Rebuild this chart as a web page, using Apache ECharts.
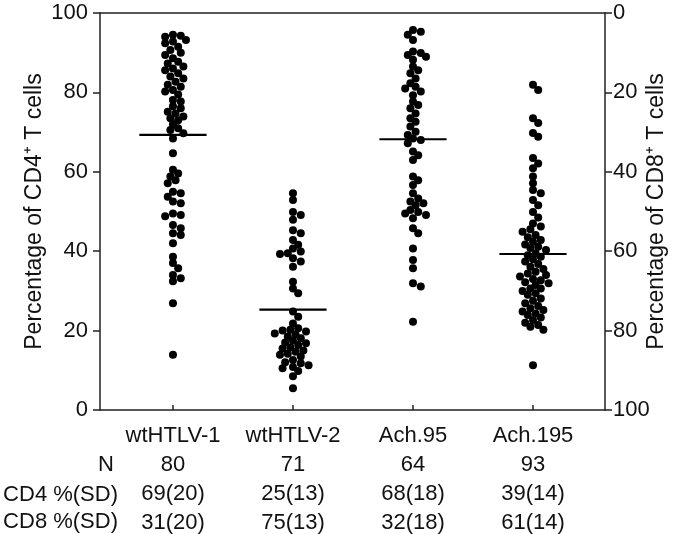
<!DOCTYPE html>
<html>
<head>
<meta charset="utf-8">
<script src="https://cdn.jsdelivr.net/npm/echarts@6/dist/echarts.min.js"></script>
<style>html,body{margin:0;padding:0;background:#fff}#c{width:680px;height:534px}</style>
</head>
<body>
<div id="c"></div>
<script>
const categories = ['wtHTLV-1', 'wtHTLV-2', 'Ach.95', 'Ach.195'];
const nCounts = [80, 71, 64, 93];
const cd4Stats = ['69(20)', '25(13)', '68(18)', '39(14)'];
const cd8Stats = ['31(20)', '75(13)', '32(18)', '61(14)'];
const cd4Means = [69.3, 25.3, 68.2, 39.3];
const leftTicks = [0, 20, 40, 60, 80, 100];

const wt1 = [94.5, 94.3, 94.0, 93.2, 92.8, 92.4, 91.5, 90.7, 90.0, 89.4, 88.6, 87.7, 87.3, 86.5, 86.0,
  85.6, 84.8, 84.0, 83.5, 82.7, 81.9, 81.4, 80.6, 80.2, 79.5, 78.1, 77.7, 76.5, 76.0, 75.1, 74.7,
  73.9, 73.5, 73.0, 72.0, 71.0, 70.5, 69.7, 68.4, 64.7, 60.5, 59.6, 58.8, 57.9, 57.1, 55.0, 54.6,
  53.7, 52.5, 52.1, 49.5, 49.1, 48.8, 46.6, 45.8, 44.5, 44.1, 42.0, 38.6, 37.0, 35.7, 34.0, 33.2,
  32.4, 26.9, 13.9];
const wt2 = [54.6, 52.9, 49.9, 49.1, 47.9, 45.3, 44.5, 42.8, 41.6, 40.7, 39.9, 39.5, 39.3, 38.2,
  37.4, 36.1, 32.3, 30.6, 29.4, 24.8, 23.5, 21.8, 20.6, 20.2, 20.0, 19.8, 19.3, 19.0, 18.5, 18.1,
  17.5, 17.0, 16.8, 16.4, 15.8, 15.5, 15.0, 14.7, 14.2, 13.9, 13.5, 12.6, 12.0, 11.8, 11.3, 10.8,
  10.5, 9.8, 8.5, 5.5];
const a95 = [95.7, 95.3, 94.5, 93.2, 90.3, 89.9, 89.4, 89.0, 88.2, 86.5, 85.6, 84.8, 83.5, 82.3,
  81.4, 81.0, 80.2, 79.3, 77.7, 76.8, 76.0, 74.7, 73.5, 72.6, 71.4, 70.1, 69.3, 68.4, 68.0, 67.2,
  65.1, 64.2, 63.0, 58.8, 57.9, 56.7, 54.6, 53.3, 52.5, 52.1, 51.6, 50.4, 49.9, 49.5, 49.1, 48.3,
  45.8, 44.5, 40.7, 37.8, 35.7, 31.9, 31.1, 22.2];
const a195 = [81.9, 80.6, 73.5, 72.3, 69.8, 68.8, 63.5, 62.1, 60.9, 58.8, 57.1, 55.4, 54.6, 52.9,
  51.6, 49.9, 48.5, 47.0, 46.2, 45.5, 44.9, 44.1, 43.5, 42.8, 42.4, 41.7, 41.1, 40.8, 40.3, 39.5,
  39.0, 38.6, 38.0, 37.4, 36.8, 36.1, 35.5, 34.8, 34.4, 34.0, 33.6, 33.0, 32.7, 32.2, 31.9, 31.5,
  30.6, 30.6, 30.0, 29.4, 29.0, 28.1, 27.5, 26.9, 26.2, 25.6, 25.2, 24.8, 24.3, 23.9, 23.3, 22.7,
  22.0, 21.4, 21.0, 20.2, 11.3];
const groups = [wt1, wt2, a95, a195];

// deterministic beeswarm placement (in pixel space, converted back to axis units)
const PX_PER_Y = 397 / 100, PX_PER_X = 120, DMIN = 6.2, STEP = 2.6;
function swarm(vals, idx) {
  const sorted = vals.slice().sort((a, b) => b - a);
  const placed = [], out = [];
  for (const v of sorted) {
    const py = v * PX_PER_Y;
    let off = 0;
    for (let t = 0; t < 80; t++) {
      const cand = t === 0 ? 0 : (t % 2 ? 1 : -1) * Math.ceil(t / 2) * STEP;
      if (placed.every(p => Math.hypot(p[0] - cand, p[1] - py) >= DMIN)) { off = cand; break; }
    }
    placed.push([off, py]);
    out.push([idx + off / PX_PER_X, v]);
  }
  return out;
}

const chart = echarts.init(document.getElementById('c'), null, {renderer: 'canvas'});
const axisColor = '#222';
const textColor = '#111';
const FONT = 'Liberation Sans, Arial, sans-serif';
const FS = 22;

const series = [];
groups.forEach((g, i) => {
  series.push({
    type: 'scatter', xAxisIndex: 0, yAxisIndex: 0,
    data: swarm(g, i), symbolSize: 8,
    itemStyle: {color: '#000', opacity: 1}, silent: true, z: 3
  });
  series.push({
    type: 'line', xAxisIndex: 0, yAxisIndex: 0,
    data: [[i - 0.28, cd4Means[i]], [i + 0.28, cd4Means[i]]],
    symbol: 'none', lineStyle: {color: '#000', width: 2.2}, silent: true, z: 4
  });
});

const option = {
  animation: false,
  backgroundColor: '#fff',
  textStyle: {fontFamily: FONT},
  grid: {left: 100, right: 75, top: 13, bottom: 124, containLabel: false, outerBoundsMode: 'none'},
  xAxis: [{
    type: 'value', min: -0.608, max: 3.6, position: 'bottom',
    splitLine: {show: false},
    axisLine: {show: true, onZero: false, lineStyle: {color: axisColor, width: 1.5}},
    axisTick: {show: true, inside: true, length: 5, customValues: [0, 1, 2, 3], lineStyle: {color: axisColor, width: 1.5}},
    axisLabel: {
      show: true, customValues: [0, 1, 2, 3], margin: 11,
      color: textColor, fontSize: FS, fontFamily: FONT, lineHeight: 29,
      formatter: v => {
        const i = Math.round(v);
        return categories[i] + '\n' + nCounts[i] + '\n' + cd4Stats[i] + '\n' + cd8Stats[i];
      }
    }
  }, {
    type: 'value', min: -0.608, max: 3.6, position: 'top',
    splitLine: {show: false},
    axisLine: {show: true, onZero: false, lineStyle: {color: axisColor, width: 1.5}},
    axisTick: {show: false}, axisLabel: {show: false}
  }],
  yAxis: [{
    type: 'value', min: 0, max: 100, interval: 20, position: 'left',
    splitLine: {show: false},
    axisLine: {show: true, onZero: false, lineStyle: {color: axisColor, width: 1.5}},
    axisTick: {show: true, length: 7, lineStyle: {color: axisColor, width: 1.5}},
    axisLabel: {color: textColor, fontSize: FS, margin: 12, fontFamily: FONT},
    name: 'Percentage of CD4\u207A T cells', nameLocation: 'middle', nameGap: 54, nameRotate: 90,
    nameMoveOverlap: false,
    nameTextStyle: {color: textColor, fontSize: 23, fontFamily: FONT}
  }, {
    type: 'value', min: 0, max: 100, interval: 20, position: 'right', inverse: true,
    splitLine: {show: false},
    axisLine: {show: true, onZero: false, lineStyle: {color: axisColor, width: 1.5}},
    axisTick: {show: true, length: 7, lineStyle: {color: axisColor, width: 1.5}},
    axisLabel: {color: textColor, fontSize: FS, margin: 8, fontFamily: FONT},
    name: 'Percentage of CD8\u207A T cells', nameLocation: 'middle', nameGap: 40, nameRotate: 90,
    nameMoveOverlap: false,
    nameTextStyle: {color: textColor, fontSize: 23, fontFamily: FONT}
  }],
  graphic: [
    {type: 'text', x: 114, y: 465, style: {text: 'N', align: 'right', verticalAlign: 'middle', fontSize: FS, fontFamily: FONT, fill: textColor}},
    {type: 'text', x: 118, y: 495, style: {text: 'CD4 %(SD)', align: 'right', verticalAlign: 'middle', fontSize: FS, fontFamily: FONT, fill: textColor}},
    {type: 'text', x: 118, y: 522, style: {text: 'CD8 %(SD)', align: 'right', verticalAlign: 'middle', fontSize: FS, fontFamily: FONT, fill: textColor}}
  ],
  series: series
};
chart.setOption(option);
</script>
</body>
</html>
